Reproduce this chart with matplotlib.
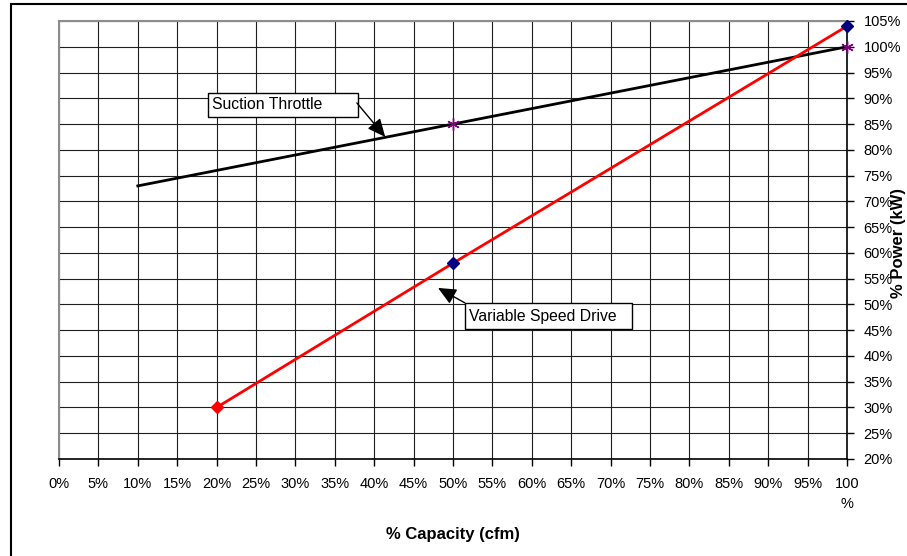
import matplotlib
matplotlib.use("Agg")
import matplotlib.pyplot as plt
from matplotlib.patches import Rectangle
from matplotlib.ticker import FixedLocator

plt.rcParams['font.family'] = ['Liberation Sans', 'DejaVu Sans']

# capacity (% of full flow) vs. power draw (% of full-load kW)
throttle_capacity = [10, 50, 100]
throttle_power = [73, 85, 100]
throttle_markers = [False, True, True]

vsd_capacity = [20, 50, 100]
vsd_power = [30, 58, 104]
vsd_marker_colors = ['#ff0000', '#000080', '#000080']

x_ticks = list(range(0, 101, 5))
x_tick_labels = [f"{v}%" for v in x_ticks[:-1]] + ["100\n%"]
y_ticks = list(range(20, 106, 5))
y_tick_labels = [f"{v}%" for v in y_ticks]

fig = plt.figure(figsize=(9.07, 5.56), dpi=100)
ax = fig.add_axes([59 / 907, 1 - 459 / 556, 788 / 907, 438 / 556])

# outer chart frame (runs off the right and bottom edge)
fig.patches.append(Rectangle((11 / 907, -0.1), 1.2, 1 - 4 / 556 + 0.1,
                             transform=fig.transFigure, fill=False,
                             edgecolor='black', linewidth=1.5, zorder=0))

ax.set_xlim(0, 100)
ax.set_ylim(20, 105)
ax.xaxis.set_major_locator(FixedLocator(x_ticks))
ax.yaxis.set_major_locator(FixedLocator(y_ticks))
ax.set_xticklabels(x_tick_labels, fontsize=10.5)
ax.set_yticklabels(y_tick_labels, fontsize=10.5)
ax.yaxis.tick_right()
ax.tick_params(axis='x', direction='out', length=5, width=1, pad=8, color='black')
ax.tick_params(axis='y', direction='out', length=5, width=1, pad=7, color='black')
for lbl in ax.get_xticklabels():
    lbl.set_linespacing(1.5)
    lbl.set_verticalalignment('top')

ax.grid(True, color='#1e1e1e', linewidth=0.8)
ax.set_axisbelow(True)
for side in ('left', 'top'):
    ax.spines[side].set_color('#8c8c8c')
    ax.spines[side].set_linewidth(1.5)
for side in ('right', 'bottom'):
    ax.spines[side].set_color('black')
    ax.spines[side].set_linewidth(1.2)

# suction throttle line with star markers
ax.plot(throttle_capacity, throttle_power, color='black', linewidth=2, zorder=3)
for x, y, m in zip(throttle_capacity, throttle_power, throttle_markers):
    if m:
        ax.plot(x, y, marker=(6, 2, 0), markersize=9, color='#800080',
                markeredgewidth=1, linestyle='none', zorder=5, clip_on=False)

# variable speed drive line with diamond markers
ax.plot(vsd_capacity, vsd_power, color='#ff0000', linewidth=2, zorder=4)
for x, y, c in zip(vsd_capacity, vsd_power, vsd_marker_colors):
    ax.plot(x, y, marker='D', markersize=6, color=c, linestyle='none',
            zorder=6, clip_on=False)


def callout(text, x0, y0, x1, y1, tail, tip):
    # label box with a text inset from the left edge and an arrow from the box to the line
    ax.add_patch(Rectangle((x0, y0), x1 - x0, y1 - y0, facecolor='white',
                           edgecolor='black', linewidth=1, zorder=7))
    ax.text(x0 + 0.5, (y0 + y1) / 2, text, fontsize=11.3, ha='left', va='center', zorder=8)
    ax.annotate('', xy=tip, xytext=tail, zorder=7,
                arrowprops=dict(arrowstyle='-|>,head_length=1.1,head_width=0.5',
                                color='black', lw=1, shrinkA=0, shrinkB=0))


callout('Suction Throttle', 18.9, 86.4, 37.9, 91.0, tail=(37.8, 89.1), tip=(41.4, 82.5))
callout('Variable Speed Drive', 51.5, 45.2, 72.7, 50.3, tail=(51.5, 50.3), tip=(48.1, 53.2))

fig.text(453 / 907, 1 - 535 / 556, '% Capacity (cfm)', fontsize=12, fontweight='bold',
         ha='center', va='center')
fig.text(899 / 907, 1 - 243 / 556, '% Power (kW)', fontsize=12, fontweight='bold',
         ha='center', va='center', rotation=90)

fig.savefig('out.png', dpi=100, facecolor='white')
